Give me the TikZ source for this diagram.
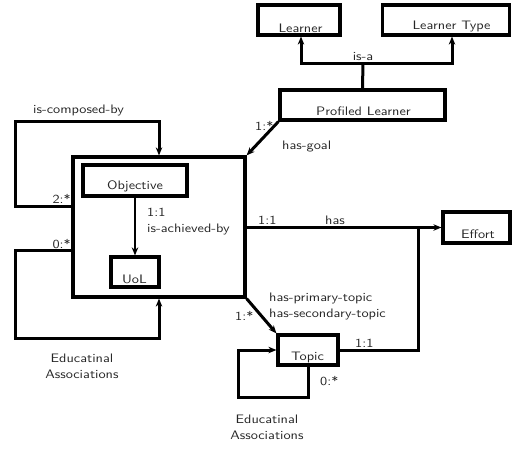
\documentclass[tikz,border=0pt]{standalone}
\usepackage{fontspec}
\setsansfont{lmsans10-regular.otf}[FakeStretch=1.16]
\usetikzlibrary{arrows.meta,calc}
\begin{document}
\begin{tikzpicture}[x=1pt,y=-1pt,
  every node/.style={font=\sffamily\fontsize{12.3}{16}\selectfont, text=black!85, inner sep=0pt},
  box/.style={draw=black, line width=3.2pt},
  conn/.style={draw=black, line width=3pt},
  thinconn/.style={draw=black, line width=2.4pt},
  arr/.style={-{Stealth[length=8pt,width=6.5pt,inset=2.5pt]}},
  txt/.style={anchor=base},
  lbl/.style={anchor=base west},
  two/.style={anchor=north, align=center}
]
\useasboundingbox (0,0) rectangle (512,448);

% boxes
\node[box, minimum width=82pt, minimum height=30pt] (learner) at (299,20) {};
\node[box, minimum width=127pt, minimum height=30pt] (ltype) at (446,20) {};
\node[box, minimum width=165pt, minimum height=30pt] (pl) at (362.5,105) {};
\node[box, minimum width=172pt, minimum height=140pt] (main) at (159,227) {};
\node[box, minimum width=104pt, minimum height=31pt] (obj) at (135,180.5) {};
\node[box, minimum width=48pt, minimum height=30pt] (uol) at (135,272) {};
\node[box, minimum width=67pt, minimum height=31pt] (effort) at (476.5,227.5) {};
\node[box, minimum width=60pt, minimum height=30pt] (topic) at (308,350) {};

% box texts
\node[txt] (learnerT) at (300.5,32) {Learner};
\node[txt] (ltypeT) at (451.5,29.5) {Learner Type};
\node[txt] (plT) at (363.5,115) {Profiled Learner};
\node[txt] (objT) at (135,189) {Objective};
\node[txt] (uolT) at (134.5,283) {UoL};
\node[txt] (effortT) at (478,238) {Effort};
\node[txt] (topicT) at (307.5,360) {Topic};

% is-a
\coordinate (isa) at (363,63);
\draw[conn] (pl.north) -- (isa);
\draw[conn,arr] (isa) -| ([xshift=2pt]learner.south);
\draw[conn,arr] (isa) -| ([xshift=6pt]ltype.south);
\node[txt] (isaL) at (363,60) {is-a};

% has-goal
\draw[conn,arr] (pl.south west) -- (main.north east);
\node[lbl] (hgM) at (255,130) {1:*};
\node[lbl] (hgL) at (282,149) {has-goal};

% is-composed-by loop
\draw[conn,arr] ($(main.west)+(0,-21)$) -| (15,121) -| (main.north);
\node[lbl] (icbL) at (33,113) {is-composed-by};
\node[anchor=base east] (icbM) at (71,203) {2:*};

% educational associations loop (main)
\draw[conn,arr] ($(main.west)+(0,23)$) -| (15,338) -| (main.south);
\node[anchor=base east] (eaM) at (71,248) {0:*};
\node[two] (eaL) at (82,354) {Educatinal\\Associations};

% objective -> uol
\draw[thinconn,arr] (obj.south) -- (uol.north);
\node[lbl] (iabM) at (147,216) {1:1};
\node[lbl] (iabL) at (147,232) {is-achieved-by};

% has -> effort
\draw[thinconn,arr] (main.east |- effort.west) -- (effort.west);
\coordinate (j) at (418,227.5);
\draw[conn] (topic.east) -| (j);
\node[lbl] (hasM) at (258,224) {1:1};
\node[lbl] (hasL) at (325,224) {has};
\node[lbl] (tM) at (355,347) {1:1};

% has-topic
\draw[conn,arr] (main.south east) -- (topic.north west);
\node[lbl] (htM) at (235,320) {1:*};
\node[anchor=north west, align=left] (htL) at (269,292.5) {has-primary-topic\\has-secondary-topic};

% topic loop
\draw[conn,arr] (topic.south) |- (238,397) |- (topic.west);
\node[lbl] (teM) at (320,385) {0:*};
\node[two] (teL) at (267,414.5) {Educatinal\\Associations};
\end{tikzpicture}
\end{document}
